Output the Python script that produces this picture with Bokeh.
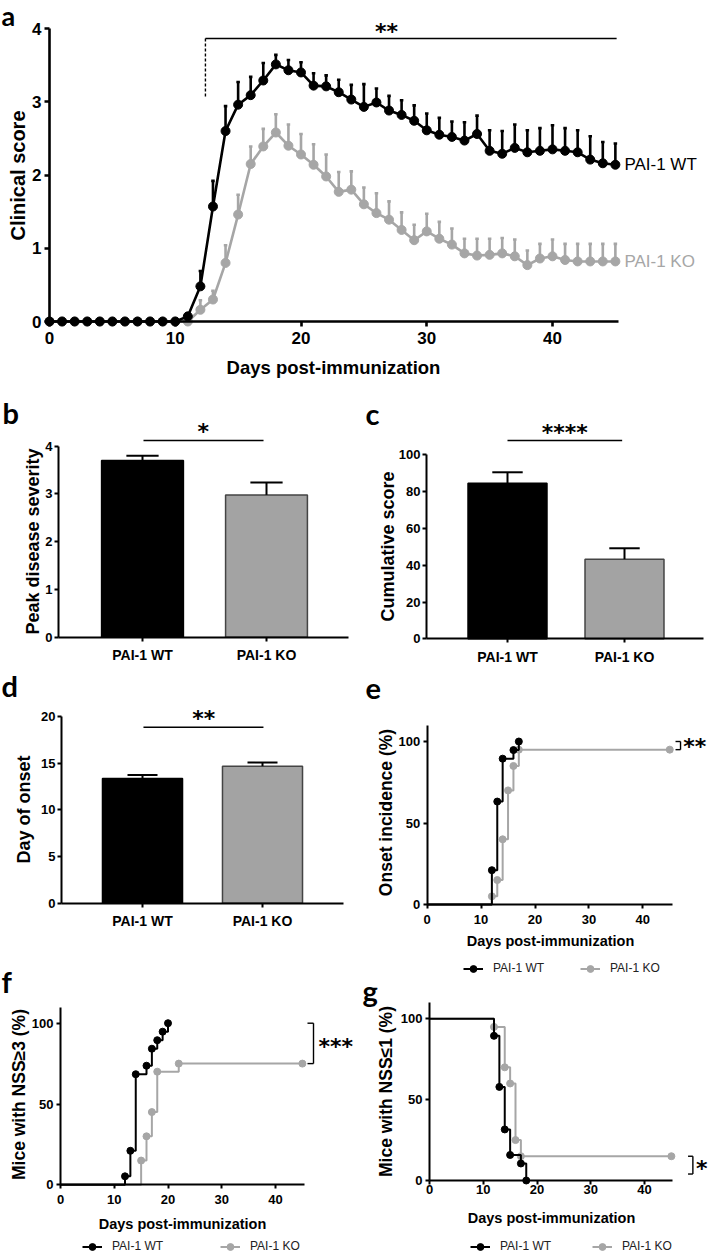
import math
import numpy as np
from bokeh.plotting import figure
from bokeh.models import Range1d, LinearAxis, FixedTicker, Label, Legend, LegendItem
from bokeh.embed import file_html
from bokeh.resources import INLINE

# ---------------- data ----------------
days = list(range(46))
wt_mean = [0] * 11 + [0.07, 0.48, 1.57, 2.60, 2.96, 3.09, 3.29, 3.51, 3.43, 3.40, 3.22, 3.21, 3.13, 3.03,
                      2.93, 2.99, 2.88, 2.82, 2.74, 2.61, 2.55, 2.52, 2.47, 2.56, 2.33, 2.29, 2.37, 2.31,
                      2.33, 2.35, 2.33, 2.31, 2.21, 2.16, 2.14]
wt_sem = [0] * 11 + [0.03, 0.21, 0.35, 0.34, 0.31, 0.25, 0.24, 0.13, 0.14, 0.14, 0.17, 0.15, 0.17, 0.20,
                     0.31, 0.19, 0.20, 0.20, 0.21, 0.23, 0.23, 0.21, 0.25, 0.25, 0.28, 0.31, 0.32, 0.30,
                     0.31, 0.33, 0.31, 0.30, 0.32, 0.29, 0.29]
ko_mean = [0] * 11 + [0.0, 0.16, 0.30, 0.80, 1.46, 2.15, 2.39, 2.58, 2.40, 2.28, 2.14, 1.98, 1.77, 1.80,
                      1.60, 1.48, 1.39, 1.25, 1.11, 1.23, 1.13, 1.05, 0.93, 0.90, 0.91, 0.93, 0.89, 0.77,
                      0.86, 0.89, 0.84, 0.82, 0.82, 0.82, 0.82]
ko_sem = [0] * 11 + [0.0, 0.13, 0.12, 0.24, 0.27, 0.24, 0.24, 0.25, 0.29, 0.28, 0.28, 0.30, 0.27, 0.25,
                     0.23, 0.27, 0.25, 0.24, 0.21, 0.24, 0.23, 0.22, 0.20, 0.23, 0.22, 0.21, 0.23, 0.20,
                     0.20, 0.23, 0.22, 0.24, 0.24, 0.24, 0.24]

groups = ["PAI-1 WT", "PAI-1 KO"]
peak_mean = [3.70, 2.98]
peak_sem = [0.10, 0.26]
cum_mean = [84.6, 43.3]
cum_sem = [5.9, 5.9]
onset_mean = [13.37, 14.68]
onset_sem = [0.35, 0.39]

onset_wt_day = [0, 12, 13, 14, 16, 17]
onset_wt_pct = [0, 21.05, 63.16, 89.47, 94.74, 100]
onset_ko_day = [0, 12, 13, 14, 15, 16, 17, 45]
onset_ko_pct = [0, 5, 15, 40, 70, 85, 95, 95]

nss3_wt_day = [0, 12, 13, 14, 16, 17, 18, 19, 20]
nss3_wt_pct = [0, 5.26, 21.05, 68.42, 73.68, 84.21, 89.47, 94.74, 100]
nss3_ko_day = [0, 15, 16, 17, 18, 22, 45]
nss3_ko_pct = [0, 15, 30, 45, 70, 75, 75]

nss1_wt_day = [0, 12, 13, 14, 15, 17, 18]
nss1_wt_pct = [100, 89.47, 57.89, 31.58, 15.79, 10.53, 0]
nss1_ko_day = [0, 12, 14, 15, 16, 17, 45]
nss1_ko_pct = [100, 95, 70, 60, 25, 15, 15]

day_ticks = [0, 10, 20, 30, 40]
score_ticks = [0, 1, 2, 3, 4]
cum_ticks = [0, 20, 40, 60, 80, 100]
onset_ticks = [0, 5, 10, 15, 20]
pct_ticks = [0, 50, 100]

# ---------------- layout ----------------
W, H = 708, 1256
X0, Y0 = 0, 0
BLACK = "#000000"
GREY = "#a6a6a6"
BARGREY = "#a3a3a3"
FONT = "Liberation Sans"

p = figure(width=W, height=H, x_range=Range1d(X0, X0 + W), y_range=Range1d(Y0 + H, Y0),
           x_axis_type=None, y_axis_type=None, output_backend="svg", toolbar_location=None,
           min_border=0, outline_line_color=None, title=None)
p.background_fill_color = "white"
p.border_fill_color = "white"


def lin_x(d0, p0, d1, p1):
    s = (p1 - p0) / (d1 - d0)
    return Range1d(start=d0 + (X0 - p0) / s, end=d0 + (X0 + W - p0) / s)


def lin_y(d0, p0, d1, p1):
    s = (p0 - p1) / (d1 - d0)
    return Range1d(start=d0 - (Y0 + H - p0) / s, end=d0 + (p0 - Y0) / s)


p.extra_x_ranges = {
    "a": lin_x(0, 49, 40, 552), "b": lin_x(1, 142, 2, 266), "c": lin_x(1, 507, 2, 624),
    "d": lin_x(1, 142, 2, 262), "e": lin_x(0, 426.7, 40, 642.3), "f": lin_x(0, 60, 40, 275),
    "g": lin_x(0, 429, 40, 644)}
p.extra_y_ranges = {
    "a": lin_y(0, 321, 4, 28), "b": lin_y(0, 636.7, 4, 445.7), "c": lin_y(0, 638.3, 100, 454.3),
    "d": lin_y(0, 902.7, 20, 716), "e": lin_y(0, 904, 100, 741), "f": lin_y(0, 1184.3, 100, 1022.7),
    "g": lin_y(0, 1180, 100, 1018.3)}


def rn(n):
    return dict(x_range_name=n, y_range_name=n)


def axes(n, xb, yb, xt, yt, yfix, lw, tout, xfs, yfs, xso, yso, xover=None):
    common = dict(axis_line_width=lw, axis_line_color=BLACK, major_tick_line_width=lw,
                  major_tick_line_color=BLACK, major_tick_out=tout, major_tick_in=0,
                  minor_tick_out=0, minor_tick_in=0, major_label_text_font=FONT,
                  major_label_text_font_style="bold", major_label_text_color=BLACK, **rn(n))
    xa = LinearAxis(fixed_location=0, bounds=xb, ticker=FixedTicker(ticks=xt),
                    major_label_text_font_size=f"{xfs}px", major_label_standoff=xso, **common)
    if xover:
        xa.major_label_overrides = xover
    p.add_layout(xa, "below")
    ya = LinearAxis(fixed_location=yfix, bounds=yb, ticker=FixedTicker(ticks=yt),
                    major_label_text_font_size=f"{yfs}px", major_label_standoff=yso, **common)
    p.add_layout(ya, "left")


def txt(x, y, s, size, font=FONT, style="bold", align="center", baseline="middle",
        angle=0.0, color=BLACK, n=None, x_offset=0):
    kw = rn(n) if n else {}
    p.add_layout(Label(x=x, y=y, text=s, text_font=font, text_font_size=f"{size}px",
                       text_font_style=style, text_align=align, text_baseline=baseline,
                       angle=angle, text_color=color, x_offset=x_offset, **kw))


def errbars(n, xs, mean, sem, cap, color, lw):
    xs = np.asarray(xs, float)
    m = np.asarray(mean, float)
    s = np.asarray(sem, float)
    k = s > 0
    p.segment(x0=xs[k], y0=m[k], x1=xs[k], y1=(m + s)[k], line_color=color, line_width=lw, **rn(n))
    p.segment(x0=xs[k] - cap, y0=(m + s)[k], x1=xs[k] + cap, y1=(m + s)[k],
              line_color=color, line_width=lw, **rn(n))


def stars(n, x, y, s, size=22, align="center"):
    txt(x, y, s, size, font="DejaVu Sans", style="bold", align=align, n=n)


def letter(x, y, s, size=29):
    txt(x, y, s, size, font="Lato", align="left")


# ---------------- panel a ----------------
for mean, sem, col in ((ko_mean, ko_sem, GREY), (wt_mean, wt_sem, BLACK)):
    p.line(days, mean, line_color=col, line_width=2.6, **rn("a"))
    errbars("a", days, mean, sem, 0.14, col, 2.6)
    p.scatter(days, mean, size=9, marker="circle", fill_color=col, line_color=col, **rn("a"))
axes("a", (0, 45.25), (0, 4), day_ticks, score_ticks, 0, 2.6, 5, 17, 17, 5, 3)
p.segment(x0=[12.4], y0=[3.864], x1=[45.1], y1=[3.864], line_color=BLACK, line_width=1.4, **rn("a"))
p.segment(x0=[12.4], y0=[3.864], x1=[12.4], y1=[3.07], line_color=BLACK, line_width=1.4,
          line_dash="3 2", **rn("a"))
stars("a", 26.8, 3.96, "**")
txt(days[-1], wt_mean[-1], "PAI-1 WT", 17, style="normal", align="left", n="a", x_offset=9)
txt(days[-1], ko_mean[-1], "PAI-1 KO", 17, style="normal", align="left", color=GREY, n="a", x_offset=9)
txt(17, 175, "Clinical score", 20, angle=math.pi / 2)
txt(333, 367, "Days post-immunization", 18.5)
letter(1, 15, "a", 27)

# ---------------- bar panels b, c, d ----------------
pos = [i + 1 for i in range(len(groups))]
overrides = {x: g for x, g in zip(pos, groups)}
bar_fill = [BLACK, BARGREY]
bar_line = [BLACK, "#444444"]


def bars(n, mean, sem, width, cap, yb, yt, yfix, xend):
    p.vbar(x=pos, top=mean, width=width, bottom=0, fill_color=bar_fill, line_color=bar_line,
           line_width=1.5, **rn(n))
    errbars(n, pos, mean, sem, cap, BLACK, 2)
    axes(n, (yfix, xend), yb, pos, yt, yfix, 2, 4, 14, 13, 6, 2, xover=overrides)


bars("b", peak_mean, peak_sem, 0.66, 0.13, (0, 4), score_ticks, 0.323, 2.66)
p.segment(x0=[1.008], y0=[4.12], x1=[1.976], y1=[4.12], line_color=BLACK, line_width=1.4, **rn("b"))
stars("b", 1.49, 4.31, "*")
txt(32, 541, "Peak disease severity", 18, angle=math.pi / 2)
letter(2, 412, "b")

bars("c", cum_mean, cum_sem, 0.675, 0.13, (0, 100), cum_ticks, 0.308, 2.675)
p.segment(x0=[1.0], y0=[107.8], x1=[1.98], y1=[107.8], line_color=BLACK, line_width=1.4, **rn("c"))
stars("c", 1.49, 112.1, "****")
txt(387, 546, "Cumulative score", 18, angle=math.pi / 2)
letter(365, 413, "c")

bars("d", onset_mean, onset_sem, 0.667, 0.125, (0, 20), onset_ticks, 0.325, 2.675)
p.segment(x0=[1.008], y0=[18.85], x1=[2.008], y1=[18.85], line_color=BLACK, line_width=1.4, **rn("d"))
stars("d", 1.51, 19.79, "**")
txt(23, 809, "Day of onset", 18, angle=math.pi / 2)
letter(1, 685, "d")


# ---------------- KM panels e, f, g ----------------
def km(n, xw, yw, xk, yk):
    rk = p.step(xk, yk, mode="after", line_color=GREY, line_width=2, **rn(n))
    sk = p.scatter(xk[1:], yk[1:], size=7, marker="circle", fill_color=GREY, line_color=GREY, **rn(n))
    rw = p.step(xw, yw, mode="after", line_color=BLACK, line_width=2, **rn(n))
    sw = p.scatter(xw[1:], yw[1:], size=7, marker="circle", fill_color=BLACK, line_color=BLACK, **rn(n))
    return (rw, sw), (rk, sk)


def legend(label, rs, left_ref, center_ref):
    lg = Legend(items=[LegendItem(label=label, renderers=list(rs))], orientation="horizontal",
                location=(left_ref - X0, (Y0 + H) - (center_ref + 8.5)), padding=0, margin=0,
                spacing=0, border_line_alpha=0, background_fill_alpha=0, glyph_width=20,
                glyph_height=17, label_height=17, label_standoff=10, label_text_font=FONT,
                label_text_font_size="12px", label_text_color="#222222")
    p.add_layout(lg)


def bracket(n, xl, xr, y1, y2):
    p.segment(x0=[xl, xr, xl], y0=[y1, y1, y2], x1=[xr, xr, xr], y1=[y1, y2, y2],
              line_color=BLACK, line_width=1.4, **rn(n))


wt_r, ko_r = km("e", onset_wt_day, onset_wt_pct, onset_ko_day, onset_ko_pct)
axes("e", (0, 45.6), (0, 110), day_ticks, pct_ticks, 0, 2, 4, 13, 13, 6, 3)
bracket("e", 46.07, 47.0, 100, 95)
stars("e", 47.5, 96.9, "**", align="left")
txt(385, 812, "Onset incidence (%)", 17.5, angle=math.pi / 2)
txt(550, 940, "Days post-immunization", 14.5)
legend(groups[0], wt_r, 463, 968)
legend(groups[1], ko_r, 580, 968)
letter(365, 688, "e")

wt_r, ko_r = km("f", nss3_wt_day, nss3_wt_pct, nss3_ko_day, nss3_ko_pct)
axes("f", (0, 45.4), (0, 110), day_ticks, pct_ticks, 0, 2, 4, 13, 13, 6, 3)
bracket("f", 45.95, 47.07, 100, 75)
stars("f", 48.0, 85.6, "***", align="left")
txt(18, 1094, "Mice with NSS\u22653 (%)", 17.5, angle=math.pi / 2)
txt(182, 1223, "Days post-immunization", 14.5)
legend(groups[0], wt_r, 82, 1246)
legend(groups[1], ko_r, 220, 1246)
letter(1, 981, "f")

wt_r, ko_r = km("g", nss1_wt_day, nss1_wt_pct, nss1_ko_day, nss1_ko_pct)
axes("g", (0, 45.3), (0, 110), day_ticks, pct_ticks, 0, 2, 4, 13, 13, 0, 3)
bracket("g", 48.1, 49.0, 15, 4)
stars("g", 49.6, 7.4, "*", align="left")
txt(385, 1091, "Mice with NSS\u22641 (%)", 17.5, angle=math.pi / 2)
txt(551, 1217, "Days post-immunization", 14.5)
legend(groups[0], wt_r, 470, 1246)
legend(groups[1], ko_r, 592, 1246)
letter(362, 990, "g")

open("out.html", "w").write(file_html(p, INLINE))
